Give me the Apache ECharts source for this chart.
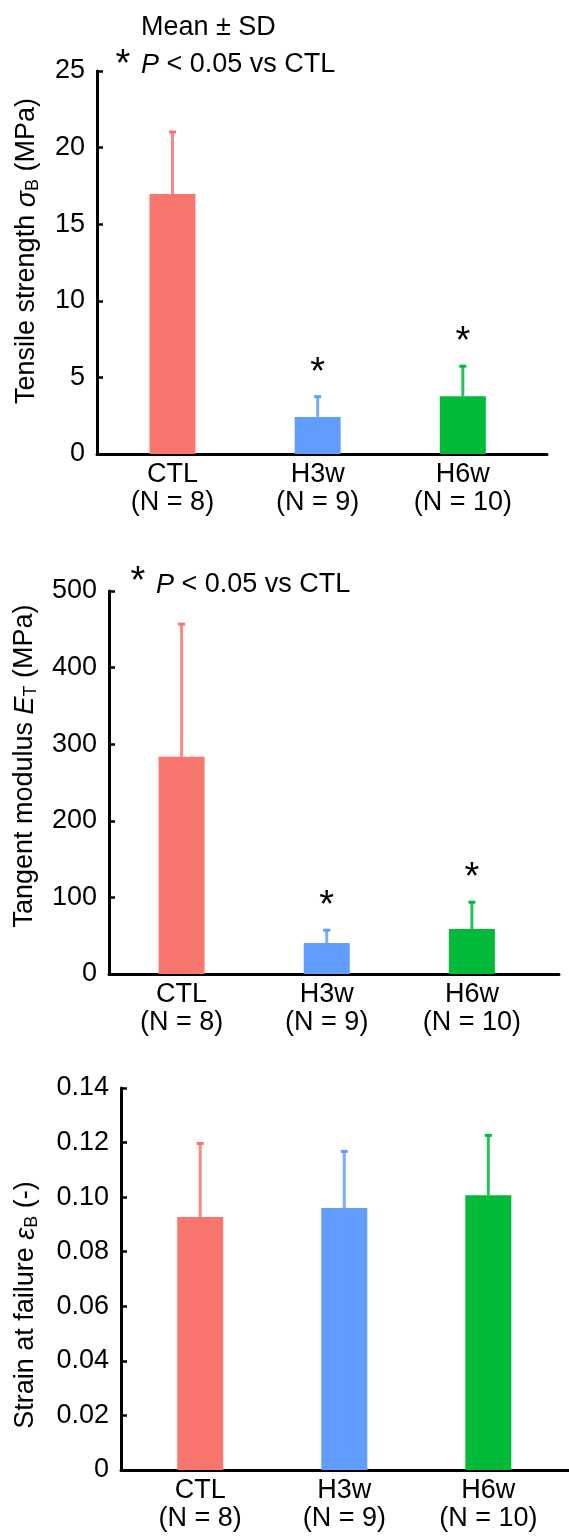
<!DOCTYPE html>
<html>
<head>
<meta charset="utf-8">
<script src="https://cdn.jsdelivr.net/npm/echarts@6/dist/echarts.min.js"></script>
<style>
    html, body { margin: 0; padding: 0; background: #fff; }
    #chart { width: 569px; height: 1540px; }
</style>
</head>
<body>
<div id="chart"></div>
<script>
var groups = ['CTL', 'H3w', 'H6w'];
var nCounts = [8, 9, 10];
var colors = ['#f8766d', '#619cff', '#00ba38'];

var tensileMean = [16.97, 2.42, 3.77];
var tensileSd = [4.15, 1.42, 2.06];
var tensileSig = [false, true, true];

var modulusMean = [283.7, 40.5, 58.7];
var modulusSd = [175.0, 18.7, 37.0];
var modulusSig = [false, true, true];

var strainMean = [0.0927, 0.0960, 0.1007];
var strainSd = [0.0275, 0.0213, 0.0225];
var strainSig = [false, false, false];

var tensileTicks = [0, 25, 5];
var modulusTicks = [0, 500, 100];
var strainTicks = [0, 0.14, 0.02];

var FONT = '"Liberation Sans", Arial, Helvetica, sans-serif';
var FS = 27;

var catLabel = function (v) {
    var i = Math.round(v);
    return groups[i] + '\n(N = ' + nCounts[i] + ')';
};

var makeX = function (idx, min, max) {
    return {
        gridIndex: idx,
        type: 'value',
        min: min,
        max: max,
        axisLine: { show: true, onZero: false, lineStyle: { color: '#000', width: 3 } },
        axisTick: { show: false },
        splitLine: { show: false },
        axisLabel: {
            customValues: [0, 1, 2],
            formatter: catLabel,
            color: '#000',
            fontSize: FS,
            fontFamily: FONT,
            lineHeight: 28,
            margin: 7
        }
    };
};

var makeY = function (idx, ticks, fmt) {
    return {
        gridIndex: idx,
        type: 'value',
        min: ticks[0],
        max: ticks[1],
        interval: ticks[2],
        axisLine: { show: true, onZero: false, lineStyle: { color: '#000', width: 3 } },
        axisTick: { show: true, inside: true, length: 6, lineStyle: { color: '#000', width: 2.5 } },
        splitLine: { show: false },
        axisLabel: { color: '#000', fontSize: FS, fontFamily: FONT, margin: 12, formatter: fmt }
    };
};

var barSeries = function (idx, means) {
    return {
        type: 'bar',
        xAxisIndex: idx,
        yAxisIndex: idx,
        barWidth: 46,
        data: means.map(function (v, i) {
            return { value: [i, v], itemStyle: { color: colors[i] } };
        })
    };
};

// one-sided SD whisker + significance star
var errSeries = function (idx, means, sds, sig) {
    return {
        type: 'custom',
        xAxisIndex: idx,
        yAxisIndex: idx,
        z: 3,
        data: means.map(function (v, i) { return [i, v, sds[i]]; }),
        renderItem: function (params, api) {
            var i = params.dataIndex;
            var x = api.value(0), m = api.value(1), s = api.value(2);
            var p0 = api.coord([x, m]);
            var p1 = api.coord([x, m + s]);
            var c = colors[i];
            var kids = [
                { type: 'line', shape: { x1: p0[0], y1: p0[1], x2: p1[0], y2: p1[1] + 1 }, style: { stroke: c, lineWidth: 3, opacity: 0.85 } },
                { type: 'line', shape: { x1: p1[0] - 3.5, y1: p1[1] + 1.5, x2: p1[0] + 3.5, y2: p1[1] + 1.5 }, style: { stroke: c, lineWidth: 3 } }
            ];
            if (sig[i]) {
                kids.push({
                    type: 'text',
                    x: p1[0],
                    y: p1[1] - 22,
                    style: { text: '*', fontSize: 38, fontFamily: FONT, fill: '#000', align: 'center', verticalAlign: 'middle' }
                });
            }
            return { type: 'group', children: kids };
        }
    };
};

var yName = function (x, y, txt) {
    return {
        type: 'text',
        x: x,
        y: y,
        rotation: Math.PI / 2,
        style: {
            text: txt,
            fontSize: FS,
            fontFamily: FONT,
            fill: '#000',
            align: 'center',
            verticalAlign: 'middle',
            rich: {
                n: { fontSize: FS, fontFamily: FONT, lineHeight: 30 },
                i: { fontSize: FS, fontFamily: FONT, fontStyle: 'italic', lineHeight: 30 },
                s: { fontSize: 18, fontFamily: FONT, lineHeight: 18, verticalAlign: 'bottom' }
            }
        }
    };
};

var star = function (x, y) {
    return { type: 'text', x: x, y: y, style: { text: '*', fontSize: 38, fontFamily: FONT, fill: '#000', align: 'center', verticalAlign: 'middle' } };
};

var pNote = function (x, y) {
    return {
        type: 'text',
        x: x,
        y: y,
        style: {
            text: '{i|P} < 0.05 vs CTL',
            fontSize: FS,
            fontFamily: FONT,
            fill: '#000',
            verticalAlign: 'middle',
            rich: {
                i: { fontSize: FS, fontFamily: FONT, fontStyle: 'italic' }
            }
        }
    };
};

var intFmt = function (v) { return String(v); };
var decFmt = function (v) { return v === 0 ? '0' : v.toFixed(2); };

var myChart = echarts.init(document.getElementById('chart'), null, { renderer: 'canvas' });
var option = {
    animation: false,
    backgroundColor: '#fff',
    grid: [
        { left: 97, top: 71, width: 450, height: 383 },
        { left: 109, top: 591, width: 450, height: 383 },
        { left: 121, top: 1088, width: 448, height: 382 }
    ],
    xAxis: [makeX(0, -0.52, 2.58), makeX(1, -0.5, 2.6), makeX(2, -0.55, 2.56)],
    yAxis: [makeY(0, tensileTicks, intFmt), makeY(1, modulusTicks, intFmt), makeY(2, strainTicks, decFmt)],
    series: [
        barSeries(0, tensileMean), errSeries(0, tensileMean, tensileSd, tensileSig),
        barSeries(1, modulusMean), errSeries(1, modulusMean, modulusSd, modulusSig),
        barSeries(2, strainMean), errSeries(2, strainMean, strainSd, strainSig)
    ],
    graphic: [
        { type: 'text', x: 141, y: 28, style: { text: 'Mean ± SD', fontSize: FS, fontFamily: FONT, fill: '#000', verticalAlign: 'middle' } },
        star(123, 66), pNote(141, 65),
        star(138, 583), pNote(156, 585),
        yName(27, 251, '{n|Tensile strength }{i|σ}{s|B}{n| (MPa)}'),
        yName(25, 766, '{n|Tangent modulus }{i|E}{s|T}{n| (MPa)}'),
        yName(26, 1305, '{n|Strain at failure }{i|ε}{s|B}{n| (-)}')
    ]
};
myChart.setOption(option);
</script>
</body>
</html>
